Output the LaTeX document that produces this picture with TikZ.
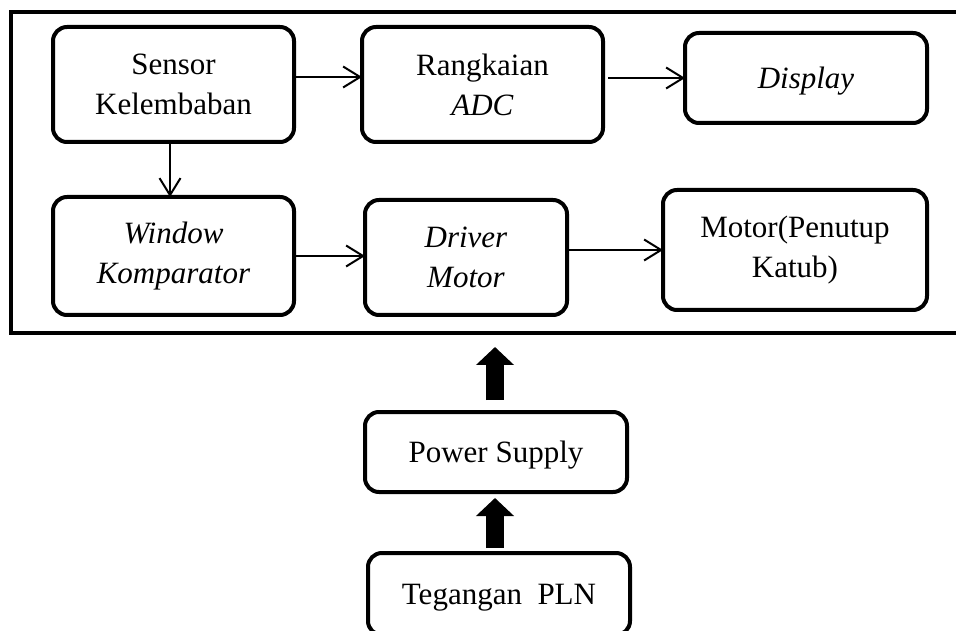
\documentclass[tikz,border=0pt]{standalone}
\usepackage{fontspec}
\setmainfont{Liberation Serif}
\usetikzlibrary{arrows.meta}

\begin{document}
\begin{tikzpicture}[x=1pt, y=1pt,
        block/.style={draw, line width=4pt, rounded corners=14pt, align=center,
            inner sep=0pt, outer sep=0pt, font=\fontsize{31}{40}\selectfont,
            execute at begin node={\rule{0pt}{27pt}}},
        flow/.style={-{Straight Barb[length=17pt,width=21pt]}, line width=2pt},
        bigarrow/.style={-{Triangle[length=18pt,width=37pt]}, line width=18pt}]

        \useasboundingbox (0,0) rectangle (956,630);

        % Frame
        \node[draw, line width=4.5pt, outer sep=0pt, minimum width=979pt, minimum height=321pt] (system) at (500.5,457.5) {};

        % Blocks
        \node[block, minimum width=241pt, minimum height=115pt] (sensor) at (173.5,545.5) {Sensor\\Kelembaban};
        \node[block, minimum width=241pt, minimum height=115pt] (adc) at (482.5,545.5) {Rangkaian\\\textit{ADC}};
        \node[block, minimum width=242pt, minimum height=90pt] (display) at (806,552) {\textit{Display}};
        \node[block, minimum width=241pt, minimum height=118pt] (window) at (173.5,374) {\textit{Window}\\\textit{Komparator}};
        \node[block, minimum width=202pt, minimum height=115pt] (driver) at (466,372.5) {\textit{Driver}\\\textit{Motor}};
        \node[block, minimum width=264pt, minimum height=120pt] (motor) at (795,380) {Motor(Penutup\\Katub)};
        \node[block, minimum width=262pt, minimum height=80pt] (power) at (496,178) {Power Supply};
        \node[block, minimum width=262pt, minimum height=82pt] (pln) at (499,36) {Tegangan\ \ PLN};

        % Connections
        \draw[flow] ([yshift=7.5pt]sensor.east) -- ([yshift=7.5pt]adc.west);
        \draw[flow] ([xshift=5pt]adc.east |- display.west) -- (display.west);
        \draw[flow] ([xshift=-3.5pt]sensor.south) -- ([xshift=-3.5pt]sensor.south |- window.north);
        \draw[flow] (window.east) -- (window.east -| driver.west);
        \draw[flow] (driver.east |- motor.west) -- (motor.west);

        % Supply
        \draw[bigarrow, shorten <=5pt, shorten >=6pt] ([xshift=-4pt]pln.north) -- ([xshift=-1pt]power.south);
        \draw[bigarrow, shorten <=12pt, shorten >=14pt] ([xshift=-1pt]power.north) -- ([xshift=-1pt]power.north |- system.south);

    \end{tikzpicture}
\end{document}
